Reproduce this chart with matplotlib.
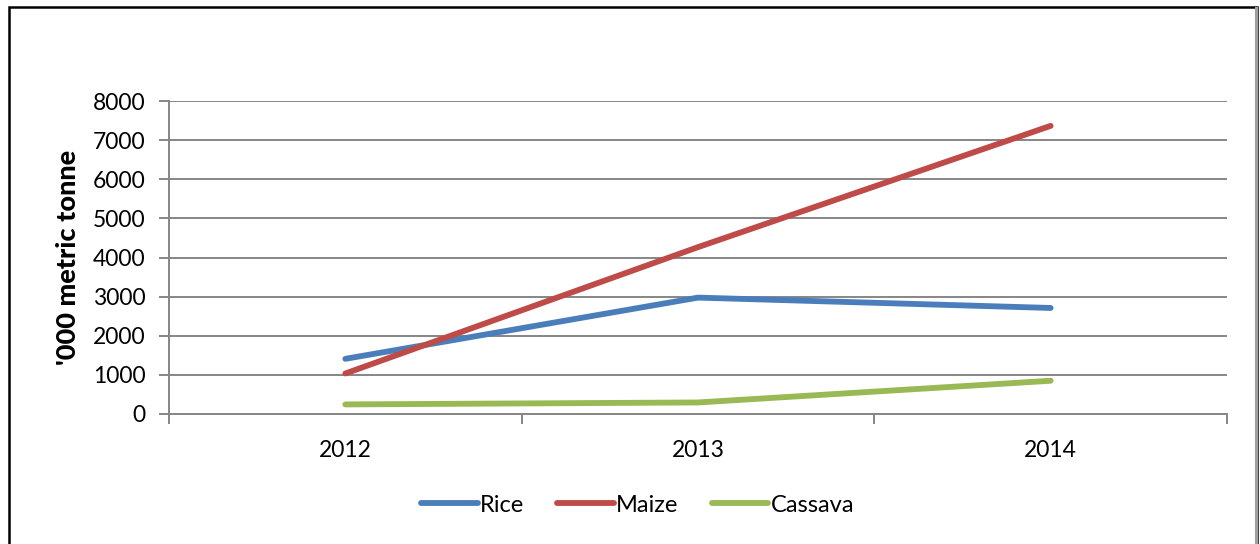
import matplotlib
matplotlib.use('Agg')
import matplotlib.pyplot as plt
from matplotlib.patches import Rectangle

years = ['2012', '2013', '2014']
rice = [1410, 2975, 2710]
maize = [1035, 4265, 7365]
cassava = [245, 295, 850]

plt.rcParams['font.family'] = ['Lato', 'DejaVu Sans']

fig = plt.figure(figsize=(12.6, 5.44), dpi=100)
ax = fig.add_axes([169/1260, 1-414/544, (1227-169)/1260, (414-101)/544])

# outer chart frame
fig.patches.append(Rectangle((9/1260, -0.1), (1257-9)/1260, 1.1 - 7/544,
                             transform=fig.transFigure, fill=False,
                             edgecolor='#000000', lw=1.8))
fig.patches.append(Rectangle((1256/1260, -0.1), 0.001, 1.1 - 8/544,
                             transform=fig.transFigure, fill=False,
                             edgecolor='#a0a0a0', lw=1.5))

x = range(len(years))
lw = 4.2
ax.plot(x, rice, color='#4a7ebb', lw=lw, solid_capstyle='round', label='Rice')
ax.plot(x, maize, color='#be4b48', lw=lw, solid_capstyle='round', label='Maize')
ax.plot(x, cassava, color='#98b954', lw=lw, solid_capstyle='round', label='Cassava')

ax.set_xlim(-0.5, 2.5)
ax.set_ylim(0, 8000)
ax.set_yticks(range(0, 8001, 1000))
ax.set_xticks([-0.5, 0.5, 1.5, 2.5])
ax.set_xticklabels([])
ax.set_xticks(list(x), minor=True)
ax.set_xticklabels(years, minor=True)
ax.tick_params(axis='x', which='minor', length=0, labelsize=16.5, pad=19)
ax.tick_params(axis='x', which='major', length=7, width=1.4, color='#868686')
ax.tick_params(axis='y', length=7, width=1.4, color='#868686', labelsize=16.5, pad=10)

ax.grid(axis='y', color='#868686', lw=1.4)
ax.set_axisbelow(True)
for s in ['top', 'right']:
    ax.spines[s].set_visible(False)
for s in ['left', 'bottom']:
    ax.spines[s].set_color('#868686')
    ax.spines[s].set_linewidth(1.4)

ax.set_ylabel("'000 metric tonne", fontsize=19.5, fontweight='black', labelpad=9)

fig.legend(loc='center', bbox_to_anchor=(0.506, 1-505/544), ncol=3, frameon=False,
           fontsize=17, handlelength=2.4, handletextpad=0.1, columnspacing=1.4)

fig.savefig('out.png', dpi=100)
